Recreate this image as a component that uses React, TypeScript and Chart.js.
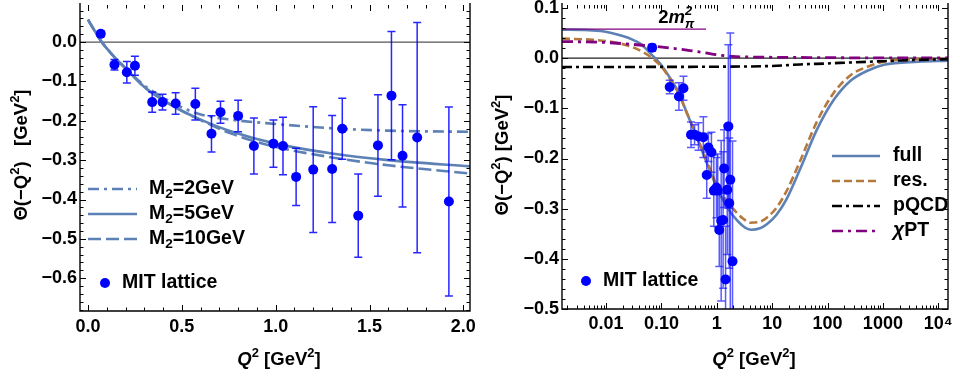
import React, { useEffect, useRef } from "react";
import { Chart, registerables } from "chart.js";
Chart.register(...registerables);

const FONT = '"Liberation Sans", Arial, Helvetica, sans-serif';

// ---------------- data ----------------
const latticeQ2 = [0.068, 0.141, 0.207, 0.25, 0.342, 0.397, 0.467, 0.572, 0.658, 0.706, 0.8, 0.884, 0.988, 1.039, 1.109, 1.2, 1.301, 1.355, 1.44, 1.545, 1.617, 1.676, 1.754, 1.923];
const latticeTheta = [0.021, -0.0575, -0.0765, -0.06, -0.1525, -0.1525, -0.156, -0.1575, -0.233, -0.178, -0.1875, -0.264, -0.258, -0.264, -0.3425, -0.324, -0.3225, -0.22, -0.441, -0.2625, -0.136, -0.289, -0.2425, -0.405];
const latticeErr = [0.007, 0.0134, 0.0275, 0.024, 0.0255, 0.02, 0.0275, 0.0405, 0.046, 0.028, 0.04, 0.071, 0.06, 0.073, 0.073, 0.16, 0.136, 0.0775, 0.106, 0.129, 0.163, 0.13, 0.2925, 0.24];

// left panel curves (Q^2 in GeV^2)
const leftCurveQ2 = [0, 0.03, 0.073, 0.1, 0.15, 0.2, 0.3, 0.4, 0.5, 0.6, 0.76, 1.0, 1.3, 1.6, 2.04];
const thetaM2_2GeV = [0.057, 0.033, 0.0, -0.016, -0.043, -0.0665, -0.11, -0.141, -0.166, -0.184, -0.197, -0.208, -0.219, -0.225, -0.228];
const thetaM2_5GeV = [0.057, 0.033, 0.0, -0.016, -0.043, -0.0665, -0.114, -0.1475, -0.1745, -0.197, -0.2265, -0.258, -0.283, -0.3, -0.316];
const thetaM2_10GeV = [0.057, 0.033, 0.0, -0.016, -0.043, -0.0665, -0.114, -0.1475, -0.1745, -0.198, -0.232, -0.266, -0.293, -0.313, -0.334];

// right panel curves
const fullQ2 = [0.0016, 0.004, 0.008, 0.0125, 0.02, 0.03, 0.04, 0.05, 0.065, 0.077, 0.1, 0.15, 0.2, 0.3, 0.4, 0.5, 0.6, 0.8, 1.0, 1.3, 1.6, 2.0, 3.0, 4.2, 6, 8, 12, 18, 32, 64, 128, 260, 525, 1050, 4300, 15000];
const thetaFull = [0.057, 0.0565, 0.054, 0.05, 0.044, 0.037, 0.03, 0.021, 0.008, 0.0, -0.014, -0.043, -0.0665, -0.114, -0.1475, -0.1745, -0.197, -0.232, -0.258, -0.283, -0.3, -0.315, -0.335, -0.342, -0.339, -0.331, -0.312, -0.282, -0.221, -0.143, -0.084, -0.045, -0.025, -0.013, -0.007, -0.005];
const resQ2 = [0.0016, 0.005, 0.01, 0.02, 0.03, 0.05, 0.068, 0.1, 0.15, 0.2, 0.3, 0.5, 0.8, 1.0, 1.5, 2.0, 3.0, 4.0, 6, 8, 12, 18, 32, 64, 128, 260, 525, 1050, 4300, 15000];
const thetaRes = [0.039, 0.037, 0.034, 0.028, 0.022, 0.01, 0.0, -0.017, -0.045, -0.068, -0.114, -0.172, -0.228, -0.254, -0.284, -0.301, -0.32, -0.328, -0.326, -0.318, -0.298, -0.266, -0.205, -0.127, -0.07, -0.034, -0.017, -0.007, -0.002, -0.001];
const pqcdQ2 = [0.0016, 0.1, 1, 10, 32, 100, 260, 1000, 2150, 15000];
const thetaPqcd = [-0.0175, -0.0174, -0.017, -0.0155, -0.0125, -0.0105, -0.0085, -0.006, -0.0045, -0.002];
const chptQ2 = [0.0016, 0.007, 0.02, 0.067, 0.15, 0.3, 0.6, 1.0, 1.9, 5, 20, 100, 1000, 15000];
const thetaChpt = [0.033, 0.032, 0.029, 0.024, 0.02, 0.0157, 0.011, 0.007, 0.0035, 0.0022, 0.0015, 0.001, 0.0005, 0.0003];
const twoMpiQ2 = [0.0016, 0.64];
const twoMpiTheta = [0.058, 0.058];
const twoMpiLabelAt = { x: 0.1845, y: 0.08 };

// ticks and labels
const leftXTicks = [0, 0.5, 1, 1.5, 2];
const leftXLabels = ["0.0", "0.5", "1.0", "1.5", "2.0"];
const leftYTicks = [-0.6, -0.5, -0.4, -0.3, -0.2, -0.1, 0];
const leftYLabels = ["\u22120.6", "\u22120.5", "\u22120.4", "\u22120.3", "\u22120.2", "\u22120.1", "0.0"];
const rightXTicks = [0.01, 0.1, 1, 10, 100, 1000, 10000];
const rightXLabels = ["0.01", "0.10", "1", "10", "100", "1000", "10\u2074"];
const rightYTicks = [-0.5, -0.4, -0.3, -0.2, -0.1, 0, 0.1];
const rightYLabels = ["\u22120.5", "\u22120.4", "\u22120.3", "\u22120.2", "\u22120.1", "0.0", "0.1"];

const massLabels = ["2GeV", "5GeV", "10GeV"];
const rightLegendLabels = ["full", "res.", "pQCD", "PT"];
const latticeLabel = "MIT lattice";

// ---------------- styles ----------------
const BLUE = "#5E81B5";
const BROWN = "#B5793D";
const PURPLE = "#800080";
const DASH_DOTDASH = [11, 5, 3, 5];
const DASH_LONG = [13, 5];
const DASH_RES = [8, 4];
const DASH_PQCD = [10, 4, 3, 4];
const LEG_SIZE = 19.5;

type Seg = { t: string; style?: "sup" | "sub" | "supsub"; italic?: boolean; lower?: string };

function segFont(size: number, italic?: boolean) {
  return `${italic ? "italic " : ""}bold ${size}px ${FONT}`;
}
function measureRich(ctx: CanvasRenderingContext2D, segs: Seg[], size: number) {
  let w = 0;
  for (const s of segs) {
    if (s.style) {
      ctx.font = segFont(size * 0.7, s.italic);
      w += Math.max(ctx.measureText(s.t).width, s.lower ? ctx.measureText(s.lower).width : 0);
    } else {
      ctx.font = segFont(size, s.italic);
      w += ctx.measureText(s.t).width;
    }
  }
  return w;
}
function drawRich(ctx: CanvasRenderingContext2D, segs: Seg[], x: number, y: number, size: number, align: "left" | "center") {
  const w = measureRich(ctx, segs, size);
  let cx = align === "center" ? x - w / 2 : x;
  ctx.textAlign = "left";
  ctx.textBaseline = "middle";
  for (const s of segs) {
    if (s.style) {
      ctx.font = segFont(size * 0.7, s.italic);
      const w1 = ctx.measureText(s.t).width;
      if (s.style === "sup") {
        ctx.fillText(s.t, cx, y - size * 0.38);
        cx += w1;
      } else if (s.style === "sub") {
        ctx.fillText(s.t, cx, y + size * 0.28);
        cx += w1;
      } else {
        ctx.fillText(s.t, cx, y - size * 0.38);
        const w2 = ctx.measureText(s.lower || "").width;
        ctx.fillText(s.lower || "", cx, y + size * 0.32);
        cx += Math.max(w1, w2);
      }
    } else {
      ctx.font = segFont(size, s.italic);
      ctx.fillText(s.t, cx, y);
      cx += ctx.measureText(s.t).width;
    }
  }
}

function rangeMinor(from: number, to: number, step: number, skipEvery: number) {
  const out: number[] = [];
  for (let i = Math.ceil(from / step - 1e-9); i * step <= to + 1e-9; i++) {
    if (i % skipEvery !== 0) out.push(+(i * step).toFixed(6));
  }
  return out;
}
function logMinor(min: number, max: number) {
  const out: number[] = [];
  for (let d = -4; d <= 5; d++) {
    for (let k = 2; k <= 9; k++) {
      const v = k * Math.pow(10, d);
      if (v > min && v < max) out.push(v);
    }
  }
  return out;
}

type Deco = {
  xMajor: number[];
  xMinor: number[];
  yMajor: number[];
  yMinor: number[];
  errColor: string;
  zeroColor: string;
  extra: (chart: any, ctx: CanvasRenderingContext2D) => void;
};

function decoPlugin(d: Deco) {
  return {
    id: "deco",
    beforeDatasetsDraw(chart: any) {
      const { ctx, chartArea: a, scales } = chart;
      const y0 = scales.y.getPixelForValue(0);
      ctx.save();
      ctx.strokeStyle = d.zeroColor;
      ctx.lineWidth = 1.2;
      ctx.beginPath();
      ctx.moveTo(a.left, y0);
      ctx.lineTo(a.right, y0);
      ctx.stroke();
      ctx.restore();
    },
    beforeDatasetDraw(chart: any, args: any) {
      if (args.index !== 0) return;
      const { ctx, chartArea: a, scales } = chart;
      ctx.save();
      ctx.beginPath();
      ctx.rect(a.left, a.top, a.right - a.left, a.bottom - a.top);
      ctx.clip();
      ctx.strokeStyle = d.errColor;
      ctx.lineWidth = 1.5;
      for (let i = 0; i < latticeQ2.length; i++) {
        const px = scales.x.getPixelForValue(latticeQ2[i]);
        const pt = scales.y.getPixelForValue(latticeTheta[i] + latticeErr[i]);
        const pb = scales.y.getPixelForValue(latticeTheta[i] - latticeErr[i]);
        ctx.beginPath();
        ctx.moveTo(px, pt);
        ctx.lineTo(px, pb);
        ctx.moveTo(px - 4, pt);
        ctx.lineTo(px + 4, pt);
        ctx.moveTo(px - 4, pb);
        ctx.lineTo(px + 4, pb);
        ctx.stroke();
      }
      ctx.restore();
    },
    afterDraw(chart: any) {
      const { ctx, chartArea: a, scales } = chart;
      ctx.save();
      ctx.strokeStyle = "#000";
      ctx.lineWidth = 1.4;
      ctx.beginPath();
      ctx.moveTo(a.left, a.top - 2);
      ctx.lineTo(a.left, a.bottom);
      ctx.lineTo(a.right, a.bottom);
      ctx.lineTo(a.right, a.top - 2);
      ctx.stroke();
      ctx.lineWidth = 1;
      const tick = (vals: number[], len: number, horiz: boolean) => {
        for (const v of vals) {
          if (horiz) {
            const p = Math.round(scales.x.getPixelForValue(v)) + 0.5;
            ctx.moveTo(p, a.bottom);
            ctx.lineTo(p, a.bottom - len);
            ctx.moveTo(p, a.top);
            ctx.lineTo(p, a.top + len);
          } else {
            const p = Math.round(scales.y.getPixelForValue(v)) + 0.5;
            ctx.moveTo(a.left, p);
            ctx.lineTo(a.left + len, p);
            ctx.moveTo(a.right, p);
            ctx.lineTo(a.right - len, p);
          }
        }
      };
      ctx.beginPath();
      tick(d.xMajor, 6, true);
      tick(d.xMinor, 3.5, true);
      tick(d.yMajor, 6, false);
      tick(d.yMinor, 3.5, false);
      ctx.stroke();
      ctx.fillStyle = "#000";
      d.extra(chart, ctx);
      ctx.restore();
    },
  };
}

function legendLine(ctx: CanvasRenderingContext2D, x1: number, x2: number, y: number, color: string, dash: number[], width: number) {
  ctx.save();
  ctx.strokeStyle = color;
  ctx.lineWidth = width;
  ctx.setLineDash(dash);
  ctx.beginPath();
  ctx.moveTo(x1, y);
  ctx.lineTo(x2, y);
  ctx.stroke();
  ctx.restore();
}
function legendDot(ctx: CanvasRenderingContext2D, x: number, y: number) {
  ctx.save();
  ctx.fillStyle = "#0000FF";
  ctx.beginPath();
  ctx.arc(x, y, 5, 0, Math.PI * 2);
  ctx.fill();
  ctx.restore();
}

const yTitleLeft: Seg[] = [{ t: "\u0398(\u2212Q" }, { t: "2", style: "sup" }, { t: ")   [GeV" }, { t: "2", style: "sup" }, { t: "]" }];
const yTitleRight: Seg[] = [{ t: "\u0398(\u2212Q" }, { t: "2", style: "sup" }, { t: ") [GeV" }, { t: "2", style: "sup" }, { t: "]" }];
const xTitle: Seg[] = [{ t: "Q", italic: true }, { t: "2", style: "sup" }, { t: " [GeV" }, { t: "2", style: "sup" }, { t: "]" }];

const tickFont = { family: FONT, size: 18, weight: "bold" as const };

function pts(xs: number[], ys: number[]) {
  return xs.map((x, i) => ({ x, y: ys[i] }));
}

function curve(label: string, xs: number[], ys: number[], color: string, dash: number[], width = 2.6) {
  return {
    label,
    data: pts(xs, ys),
    borderColor: color,
    backgroundColor: color,
    borderWidth: width,
    borderDash: dash,
    pointRadius: 0,
    cubicInterpolationMode: "monotone" as const,
    fill: false,
  };
}

function latticeDataset() {
  return {
    label: latticeLabel,
    data: pts(latticeQ2, latticeTheta),
    showLine: false,
    pointRadius: 5,
    pointBackgroundColor: "#0000FF",
    pointBorderWidth: 0,
    borderColor: "#0000FF",
    backgroundColor: "#0000FF",
  };
}

function leftConfig(): any {
  const xMin = -0.0426, xMax = 2.0355, yMin = -0.6833, yMax = 0.0943;
  return {
    type: "line",
    data: {
      datasets: [
        latticeDataset(),
        curve("M2=2GeV", leftCurveQ2, thetaM2_2GeV, BLUE, DASH_DOTDASH),
        curve("M2=5GeV", leftCurveQ2, thetaM2_5GeV, BLUE, []),
        curve("M2=10GeV", leftCurveQ2, thetaM2_10GeV, BLUE, DASH_LONG),
      ],
    },
    options: {
      responsive: false,
      animation: false,
      devicePixelRatio: 1,
      events: [],
      layout: { padding: { left: 0, right: 10, top: 0, bottom: 0 } },
      plugins: { legend: { display: false }, tooltip: { enabled: false } },
      scales: {
        x: {
          type: "linear",
          min: xMin,
          max: xMax,
          grid: { display: false, drawTicks: false },
          border: { display: false },
          ticks: { font: tickFont, color: "#000", padding: 5, autoSkip: false, maxRotation: 0, callback: (_v: any, i: number) => leftXLabels[i] },
          afterBuildTicks: (s: any) => { s.ticks = leftXTicks.map((v) => ({ value: v })); },
          afterFit: (s: any) => { s.height = 70; s.paddingLeft = 0; s.paddingRight = 0; },
        },
        y: {
          type: "linear",
          min: yMin,
          max: yMax,
          grid: { display: false, drawTicks: false },
          border: { display: false },
          ticks: { font: tickFont, color: "#000", padding: 3, autoSkip: false, callback: (_v: any, i: number) => leftYLabels[i] },
          afterBuildTicks: (s: any) => { s.ticks = leftYTicks.map((v) => ({ value: v })); },
          afterFit: (s: any) => { s.width = 80; s.paddingTop = 0; s.paddingBottom = 0; },
        },
      },
    },
    plugins: [
      decoPlugin({
        xMajor: leftXTicks,
        xMinor: rangeMinor(xMin, xMax, 0.1, 5),
        yMajor: leftYTicks,
        yMinor: rangeMinor(yMin, yMax, 0.02, 5),
        errColor: "rgba(0,0,255,0.85)",
        zeroColor: "#555",
        extra: (chart, ctx) => {
          const dashes = [DASH_DOTDASH, [], DASH_LONG];
          const ys = [189, 214, 239];
          massLabels.forEach((m, i) => {
            legendLine(ctx, 88, 137, ys[i], BLUE, dashes[i], 2.6);
            drawRich(ctx, [{ t: "M" }, { t: "2", style: "sub" }, { t: "=" + m }], 149, ys[i], LEG_SIZE, "left");
          });
          legendDot(ctx, 105, 283);
          drawRich(ctx, [{ t: latticeLabel }], 122, 283, LEG_SIZE, "left");
          ctx.save();
          ctx.translate(22, 155);
          ctx.rotate(-Math.PI / 2);
          drawRich(ctx, yTitleLeft, 0, 0, 18.5, "center");
          ctx.restore();
          drawRich(ctx, xTitle, 279, 360, 18.5, "center");
        },
      }),
    ],
  };
}

function rightConfig(): any {
  const xMin = 0.0016, xMax = 15000, yMin = -0.5, yMax = 0.106;
  return {
    type: "line",
    data: {
      datasets: [
        latticeDataset(),
        curve("2mpi2", twoMpiQ2, twoMpiTheta, PURPLE, [], 1.3),
        curve("pQCD", pqcdQ2, thetaPqcd, "#000", DASH_PQCD, 2.6),
        curve("chiPT", chptQ2, thetaChpt, PURPLE, DASH_DOTDASH, 2.8),
        curve("res.", resQ2, thetaRes, BROWN, DASH_RES, 2.6),
        curve("full", fullQ2, thetaFull, BLUE, [], 2.6),
      ],
    },
    options: {
      responsive: false,
      animation: false,
      devicePixelRatio: 1,
      events: [],
      layout: { padding: { left: 0, right: 12, top: 0, bottom: 0 } },
      plugins: { legend: { display: false }, tooltip: { enabled: false } },
      scales: {
        x: {
          type: "logarithmic",
          min: xMin,
          max: xMax,
          grid: { display: false, drawTicks: false },
          border: { display: false },
          ticks: { font: tickFont, color: "#000", padding: 4, autoSkip: false, maxRotation: 0, callback: (_v: any, i: number) => rightXLabels[i] },
          afterBuildTicks: (s: any) => { s.ticks = rightXTicks.map((v) => ({ value: v })); },
          afterFit: (s: any) => { s.height = 72; s.paddingLeft = 0; s.paddingRight = 0; },
        },
        y: {
          type: "linear",
          min: yMin,
          max: yMax,
          grid: { display: false, drawTicks: false },
          border: { display: false },
          ticks: { font: tickFont, color: "#000", padding: 3, autoSkip: false, callback: (_v: any, i: number) => rightYLabels[i] },
          afterBuildTicks: (s: any) => { s.ticks = rightYTicks.map((v) => ({ value: v })); },
          afterFit: (s: any) => { s.width = 82; s.paddingTop = 0; s.paddingBottom = 0; },
        },
      },
    },
    plugins: [
      decoPlugin({
        xMajor: rightXTicks,
        xMinor: logMinor(xMin, xMax),
        yMajor: rightYTicks,
        yMinor: rangeMinor(yMin, yMax, 0.02, 5),
        errColor: "rgba(20,20,255,0.7)",
        zeroColor: "#222",
        extra: (chart, ctx) => {
          const { scales } = chart;
          const lx = scales.x.getPixelForValue(twoMpiLabelAt.x);
          const ly = scales.y.getPixelForValue(twoMpiLabelAt.y);
          drawRich(ctx, [{ t: "2" }, { t: "m", italic: true }, { t: "2", style: "supsub", lower: "\u03C0", italic: true }], lx, ly, 18.5, "center");
          const ys = [156, 181, 206, 231];
          const colors = [BLUE, BROWN, "#000", PURPLE];
          const dashes = [[], DASH_RES, DASH_PQCD, DASH_DOTDASH];
          rightLegendLabels.forEach((lab, i) => {
            legendLine(ctx, 352, 400, ys[i], colors[i], dashes[i], 2.6);
            const segs: Seg[] = i === 3 ? [{ t: "\u03C7", italic: true }, { t: lab }] : [{ t: lab }];
            drawRich(ctx, segs, 413, ys[i], LEG_SIZE, "left");
          });
          legendDot(ctx, 106, 281);
          drawRich(ctx, [{ t: latticeLabel }], 123, 281, LEG_SIZE, "left");
          ctx.save();
          ctx.translate(23, 155);
          ctx.rotate(-Math.PI / 2);
          drawRich(ctx, yTitleRight, 0, 0, 18.5, "center");
          ctx.restore();
          drawRich(ctx, xTitle, 274, 360, 18.5, "center");
        },
      }),
    ],
  };
}

export default function App() {
  const leftRef = useRef<HTMLCanvasElement>(null);
  const rightRef = useRef<HTMLCanvasElement>(null);
  useEffect(() => {
    const c1 = new Chart(leftRef.current as HTMLCanvasElement, leftConfig());
    const c2 = new Chart(rightRef.current as HTMLCanvasElement, rightConfig());
    return () => {
      c1.destroy();
      c2.destroy();
    };
  }, []);
  return (
    <div style={{ position: "absolute", left: 0, top: 0, width: 960, height: 381, background: "#fff", overflow: "hidden" }}>
      <canvas ref={leftRef} width={480} height={381} style={{ position: "absolute", left: 0, top: 0, width: 480, height: 381 }} />
      <canvas ref={rightRef} width={480} height={381} style={{ position: "absolute", left: 480, top: 0, width: 480, height: 381 }} />
    </div>
  );
}
